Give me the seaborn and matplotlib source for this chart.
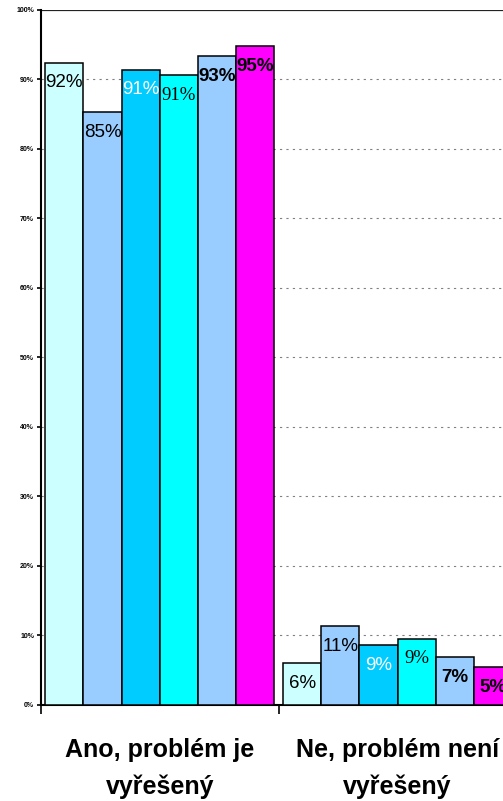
import matplotlib
matplotlib.use("Agg")
import matplotlib.pyplot as plt
import seaborn as sns
import pandas as pd
from matplotlib.ticker import FixedLocator

categories = ["Ano, problém je\nvyřešený", "Ne, problém není\nvyřešený"]
series_names = ["Řada 1", "Řada 2", "Řada 3", "Řada 4", "Řada 5", "Řada 6"]
series_1 = [92.4, 6.0]
series_2 = [85.3, 11.3]
series_3 = [91.4, 8.6]
series_4 = [90.6, 9.5]
series_5 = [93.3, 6.8]
series_6 = [94.8, 5.4]
bar_labels = [["92%", "6%"], ["85%", "11%"], ["91%", "9%"],
              ["91%", "9%"], ["93%", "7%"], ["95%", "5%"]]
colors = ["#CCFFFF", "#99CCFF", "#00CCFF", "#00FFFF", "#99CCFF", "#FF00FF"]
label_colors = ["black", "black", "white", "black", "black", "black"]
label_families = ["Liberation Sans", "Liberation Sans", "Liberation Sans",
                  "Liberation Serif", "Liberation Sans", "Liberation Sans"]
label_weights = ["normal", "normal", "normal", "normal", "bold", "bold"]
y_ticks = [0, 10, 20, 30, 40, 50, 60, 70, 80, 90, 100]
y_tick_labels = [f"{t}%" for t in y_ticks]

all_series = [series_1, series_2, series_3, series_4, series_5, series_6]
rows = []
for name, vals in zip(series_names, all_series):
    for cat, v in zip(categories, vals):
        rows.append({"category": cat, "series": name, "value": v})
df = pd.DataFrame(rows)

sns.set_theme(style="white")
plt.rcParams["font.family"] = ["Liberation Sans", "DejaVu Sans"]

fig = plt.figure(figsize=(5.03, 8.01), dpi=100)
W, H = 503, 801
x0, x1 = 41, 516.4
y0, y1 = 704.7, 9.8
ax = fig.add_axes([x0 / W, (H - y0) / H, (x1 - x0) / W, (y0 - y1) / H])

sns.barplot(data=df, x="category", y="value", hue="series", order=categories,
            hue_order=series_names, palette=colors, width=0.964,
            edgecolor="black", linewidth=1.1, saturation=1, ax=ax,
            legend=False, errorbar=None, zorder=3)

ax.set_xlim(-0.5, 1.5)
ax.set_ylim(0, 100)

# grid
for t in y_ticks[1:-1]:
    ax.axhline(t, color="#808080", lw=0.8, ls=(0, (2.0, 3.8)), zorder=1)
ax.axhline(100, color="#222222", lw=1.6, zorder=1)

# bar labels
for i, cont in enumerate(ax.containers):
    for j, patch in enumerate(cont.patches):
        xc = patch.get_x() + patch.get_width() / 2
        yt = patch.get_y() + patch.get_height()
        ax.annotate(bar_labels[i][j], (xc, yt), xytext=(0, -14.5),
                    textcoords="offset points", ha="center", va="center",
                    fontsize=13.5, color=label_colors[i],
                    family=label_families[i], fontweight=label_weights[i],
                    zorder=5)

# axes styling
ax.spines["right"].set_visible(False)
ax.spines["top"].set_visible(False)
ax.spines["left"].set_color("black")
ax.spines["left"].set_linewidth(1.5)
ax.spines["bottom"].set_color("black")
ax.spines["bottom"].set_linewidth(1.5)

ax.set_yticks(y_ticks)
ax.set_yticklabels(y_tick_labels, fontsize=5, fontweight="bold", color="black")
ax.tick_params(axis="y", direction="out", length=3, width=1.2, pad=2,
               left=True, colors="black")

ax.xaxis.set_major_locator(FixedLocator([-0.5, 0.5, 1.5]))
ax.xaxis.set_minor_locator(FixedLocator([0, 1]))
ax.set_xticklabels([], minor=False)
ax.set_xticklabels(categories, minor=True, fontsize=18, fontweight="bold",
                   linespacing=1.65, color="black")
ax.tick_params(axis="x", which="major", direction="out", length=6.5,
               width=1.2, bottom=True, colors="black")
ax.tick_params(axis="x", which="minor", length=0, pad=24, colors="black")
ax.set_xlabel("")
ax.set_ylabel("")

fig.savefig("out.png", dpi=100)
